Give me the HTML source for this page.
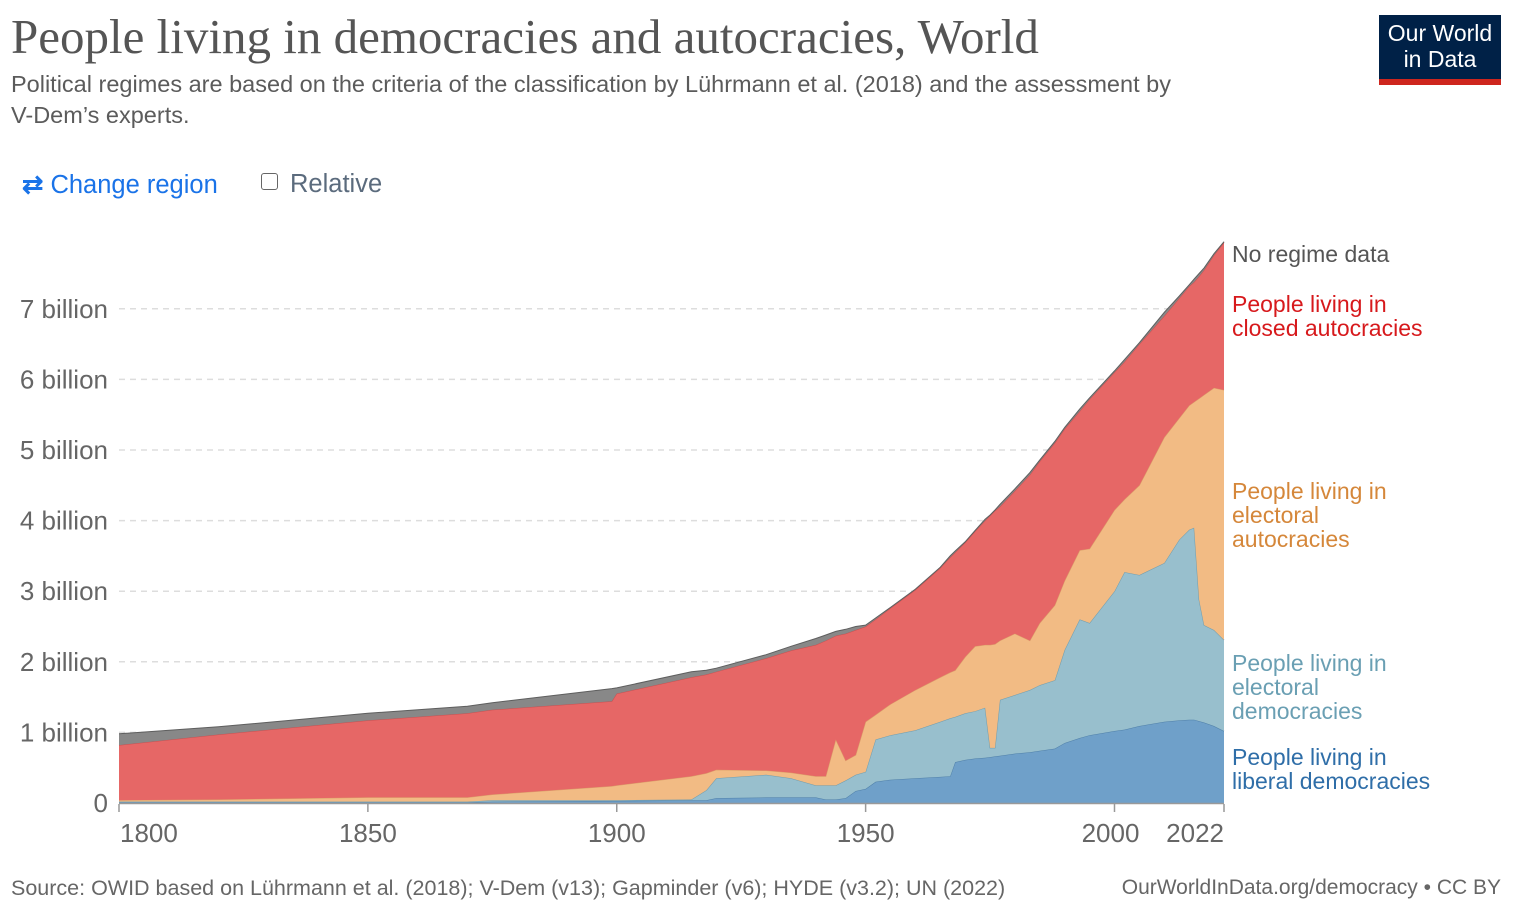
<!DOCTYPE html>
<html><head><meta charset="utf-8">
<style>
body{margin:0;background:#fff;width:1524px;height:914px;overflow:hidden;font-family:"Liberation Sans",sans-serif;position:relative}
.t{position:absolute;white-space:nowrap}
</style></head><body>
<div class="t" style="left:11px;top:8px;font-family:'Liberation Serif',serif;font-size:49px;color:#555">People living in democracies and autocracies, World</div>
<div class="t" style="left:11px;top:69px;font-size:23.5px;line-height:31px;color:#5b5b5b;white-space:normal;width:1225px">Political regimes are based on the criteria of the classification by Lührmann et al. (2018) and the assessment by <span style="white-space:nowrap">V-Dem’s</span> experts.</div>
<div style="position:absolute;left:1379px;top:15px;width:122px;height:70px;background:#002147;border-bottom:6px solid #ce261e;box-sizing:border-box;color:#fff;font-size:23px;line-height:26px;text-align:center;padding-top:5px">Our World<br>in Data</div>
<div class="t" style="left:22px;top:170px;font-size:25.5px;color:#1a73e8"><span style="font-weight:bold">⇄</span> Change region</div>
<div class="t" style="left:261px;top:170px;font-size:25.5px;color:#5b6b7d"><span style="display:inline-block;width:15px;height:15px;border:1.5px solid #666;border-radius:3px;vertical-align:2px;margin-right:12px"></span>Relative</div>
<svg id="chart" width="1524" height="914" style="position:absolute;left:0;top:0" font-family="Liberation Sans, sans-serif"></svg>
<div class="t" style="left:11px;top:876px;font-size:21.5px;color:#666">Source: OWID based on Lührmann et al. (2018); V-Dem (v13); Gapminder (v6); HYDE (v3.2); UN (2022)</div>
<div class="t" style="right:23px;top:876px;font-size:21px;color:#666">OurWorldInData.org/democracy • CC BY</div>
<script>
const years=[1800,1820,1850,1870,1875,1899,1900,1915,1918,1920,1930,1935,1940,1942,1944,1946,1948,1950,1952,1955,1960,1965,1967,1968,1970,1972,1974,1975,1976,1977,1980,1983,1985,1988,1990,1993,1995,2000,2002,2005,2010,2013,2015,2016,2017,2018,2020,2022];
const liberal=[.01,.01,.01,.01,.02,.03,.03,.04,.04,.07,.08,.08,.08,.05,.05,.07,.17,.20,.30,.33,.35,.37,.38,.58,.61,.63,.64,.65,.66,.67,.70,.72,.74,.77,.85,.92,.96,1.02,1.04,1.09,1.15,1.17,1.18,1.18,1.16,1.14,1.09,1.02];
const electoralDem=[.01,.01,.01,.01,.02,.01,.01,.01,.14,.28,.32,.27,.17,.20,.20,.25,.23,.24,.60,.63,.68,.78,.82,.64,.66,.67,.71,.13,.12,.79,.83,.88,.93,.97,1.32,1.68,1.59,1.98,2.23,2.14,2.25,2.56,2.69,2.72,1.72,1.38,1.36,1.29];
const electoralAuto=[.02,.03,.06,.06,.08,.20,.21,.33,.24,.12,.06,.08,.13,.13,.65,.28,.28,.71,.35,.44,.57,.63,.65,.66,.80,.92,.89,1.46,1.47,.84,.87,.70,.88,1.06,.98,.98,1.05,1.15,1.03,1.27,1.78,1.72,1.76,1.78,2.85,3.26,3.43,3.54];
const closedAuto=[.78,.92,1.09,1.19,1.20,1.20,1.30,1.40,1.40,1.39,1.59,1.73,1.86,1.92,1.47,1.80,1.77,1.35,1.35,1.36,1.42,1.55,1.63,1.67,1.62,1.63,1.76,1.83,1.89,1.90,2.02,2.35,2.29,2.30,2.15,1.97,2.12,1.95,1.95,2.00,1.72,1.70,1.69,1.70,1.73,1.77,1.88,2.09];
const noData=[.16,.11,.10,.10,.10,.18,.08,.08,.06,.05,.05,.06,.09,.08,.06,.06,.05,.02,.02,.01,.01,.01,.02,.02,.01,.01,.02,.01,.01,.03,.03,.03,.02,.02,.02,.03,.02,.02,.03,.02,.05,.03,.02,.04,.04,.03,.02,.01];
const yTicks=[0,1,2,3,4,5,6,7];
const yTickLabels=["0","1 billion","2 billion","3 billion","4 billion","5 billion","6 billion","7 billion"];
const xTicks=[1800,1850,1900,1950,2000,2022];

const NS="http://www.w3.org/2000/svg";
const svg=document.getElementById('chart');
const X0=119,X1=1224,Y0=803,PXB=70.6;
const x=yr=>X0+(yr-1800)*(X1-X0)/(2022-1800);
const y=v=>Y0-v*PXB;
function mk(tag,attrs){const e=document.createElementNS(NS,tag);for(const k in attrs)e.setAttribute(k,attrs[k]);svg.appendChild(e);return e;}

yTicks.forEach((v,i)=>{
  if(v>0){const g=mk('line',{x1:119,x2:1224,y1:y(v),y2:y(v),stroke:'#ddd','stroke-dasharray':'6,5','stroke-width':1.5});
  
  }
  const t=mk('text',{x:108,y:y(v)+9,'text-anchor':'end','font-size':26,fill:'#666'});
  t.textContent=yTickLabels[i];
  
  
});

const series=[
 {d:liberal,fill:'#6fa0c9',stroke:'#4f7fa8',name:'area-liberal-democracies'},
 {d:electoralDem,fill:'#98bfcd',stroke:'#6f9cae',name:'area-electoral-democracies'},
 {d:electoralAuto,fill:'#f2bb84',stroke:'#dba06a',name:'area-electoral-autocracies'},
 {d:closedAuto,fill:'#e66766',stroke:'#c94f4f',name:'area-closed-autocracies'},
 {d:noData,fill:'#888',stroke:'#5e5e5e',name:'area-no-regime-data'}];
let base=years.map(()=>0);
series.forEach(s=>{
  const top=base.map((b,i)=>b+s.d[i]);
  let p='M'+years.map((yr,i)=>x(yr).toFixed(1)+','+y(top[i]).toFixed(1)).join('L');
  for(let i=years.length-1;i>=0;i--)p+='L'+x(years[i]).toFixed(1)+','+y(base[i]).toFixed(1);
  const a=mk('path',{d:p+'Z',fill:s.fill});
  
  
  const l=mk('path',{d:'M'+years.map((yr,i)=>x(yr).toFixed(1)+','+y(top[i]).toFixed(1)).join('L'),fill:'none',stroke:s.stroke,'stroke-width':1});
  
  
  base=top;
});

const ax=mk('line',{x1:119,x2:1224,y1:803.5,y2:803.5,stroke:'#999','stroke-width':1.5});


xTicks.forEach(yr=>{
  const tk=mk('line',{x1:x(yr),x2:x(yr),y1:804,y2:812,stroke:'#999','stroke-width':1.5});
  
  
  let anchor='middle',tx=x(yr);
  if(yr===1800){anchor='start';tx=x(yr)+1;}
  if(yr===2000)tx=x(yr)-4;
  if(yr===2022){anchor='end';tx=x(yr);}
  const t=mk('text',{x:tx,y:842,'text-anchor':anchor,'font-size':26,fill:'#666'});
  t.textContent=yr;
  
  
});

const labels=[
 {lines:['No regime data'],y0:262,c:'#555',n:'legend-no-regime-data'},
 {lines:['People living in','closed autocracies'],y0:312,c:'#d7191c',n:'legend-closed-autocracies'},
 {lines:['People living in','electoral','autocracies'],y0:499,c:'#d5873a',n:'legend-electoral-autocracies'},
 {lines:['People living in','electoral','democracies'],y0:671,c:'#6a9fb3',n:'legend-electoral-democracies'},
 {lines:['People living in','liberal democracies'],y0:765,c:'#2f6ea8',n:'legend-liberal-democracies'}];
labels.forEach(L=>{
  L.lines.forEach((s,i)=>{
    const t=mk('text',{x:1232,y:L.y0+i*24,'font-size':23,fill:L.c});
    t.textContent=s;
    
    
  });
});
</script>
</body></html>
